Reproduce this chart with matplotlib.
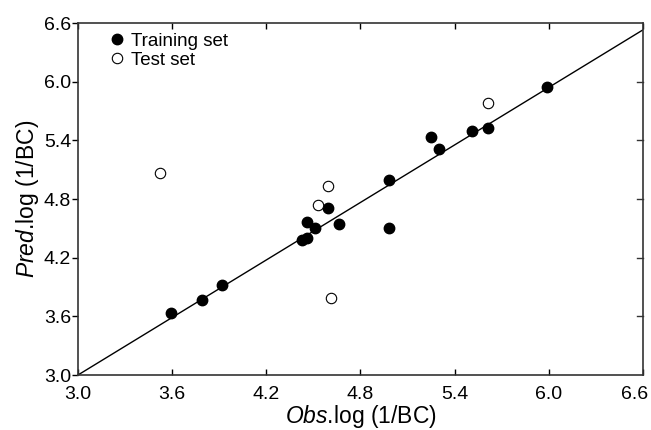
import matplotlib
matplotlib.use('Agg')
import matplotlib.pyplot as plt
import matplotlib.transforms as mtransforms

plt.rcParams['font.family'] = ['Liberation Sans', 'DejaVu Sans']
plt.rcParams['mathtext.fontset'] = 'custom'
plt.rcParams['mathtext.rm'] = 'Liberation Sans'
plt.rcParams['mathtext.it'] = 'Liberation Sans:italic'

# training set (observed, predicted)
train_obs = [3.59, 3.79, 3.92, 4.43, 4.46, 4.46, 4.51, 4.59, 4.66, 4.98, 4.98, 5.25, 5.30, 5.51, 5.61, 5.99]
train_pred = [3.63, 3.77, 3.92, 4.38, 4.40, 4.56, 4.50, 4.71, 4.54, 4.99, 4.50, 5.43, 5.31, 5.50, 5.53, 5.95]

# test set
test_obs = [3.52, 4.53, 4.59, 4.61, 5.61]
test_pred = [5.07, 4.74, 4.93, 3.79, 5.78]

# fitted line
line_x = [3.0, 6.6]
line_y = [3.0, 6.53]

ticks = [3.0, 3.6, 4.2, 4.8, 5.4, 6.0, 6.6]

fig = plt.figure(figsize=(6.51, 4.30), dpi=100)
ax = fig.add_axes([0.1198, 0.1279, 0.8679, 0.8186])

ax.plot(line_x, line_y, color='black', lw=1.0, zorder=2)
ax.plot(train_obs, train_pred, 'o', ms=7.5, mfc='black', mec='black', label='Training set', zorder=3)
ax.plot(test_obs, test_pred, 'o', ms=7.5, mfc='white', mec='black', mew=0.8, label='Test set', zorder=3)

ax.set_xlim(3.0, 6.6)
ax.set_ylim(3.0, 6.6)
ax.set_xticks(ticks)
ax.set_yticks(ticks)
ax.set_xticklabels([f'{t:.1f}' for t in ticks], fontsize=14)
ax.set_yticklabels([f'{t:.1f}' for t in ticks], fontsize=14)

ax.tick_params(axis='x', direction='in', top=True, length=4, width=1, pad=8)
ax.tick_params(axis='y', direction='out', length=4, width=1, pad=1)
for t in ticks[1:-1]:
    ax.plot([6.6 - 0.035, 6.6], [t, t], color='#333333', lw=1, clip_on=False, zorder=4)

# keep the last x label inside the picture
last = ax.get_xticklabels()[-1]
last.set_transform(last.get_transform() + mtransforms.ScaledTranslation(-8 / 100, 0, fig.dpi_scale_trans))

for s in ax.spines.values():
    s.set_linewidth(1.2)
    s.set_color('#333333')

ax.set_xlabel(r'$\it{Obs}$.log (1/BC)', fontsize=16.5, labelpad=0)
ax.set_ylabel(r'$\it{Pred}$.log (1/BC)', fontsize=16.5, labelpad=2)

ax.legend(loc='upper left', frameon=False, fontsize=13.5, handletextpad=0.0,
          borderaxespad=0.1, labelspacing=0.1, handlelength=1.4,
          bbox_to_anchor=(0.03, 1.0))

fig.savefig('out.png', dpi=100)
